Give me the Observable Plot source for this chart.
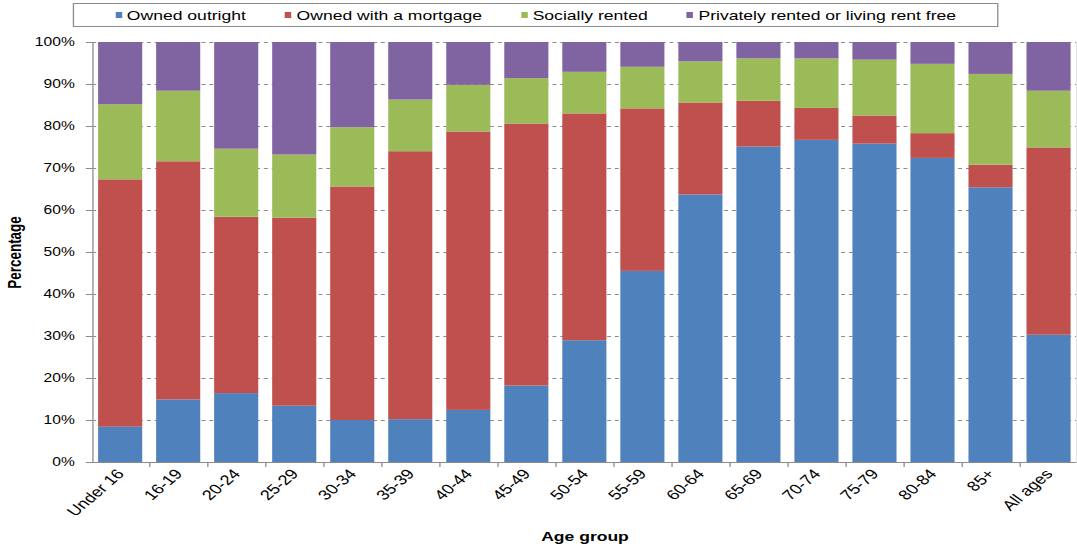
<!DOCTYPE html>
<html>
<head>
<meta charset="utf-8">
<script src="https://cdn.jsdelivr.net/npm/d3@7"></script>
<script src="https://cdn.jsdelivr.net/npm/@observablehq/plot@0.6"></script>
<style>
  body { margin: 0; background: #fff; font-family: "Liberation Sans", Arial, sans-serif; }
  /* chart is laid out narrow and widened horizontally as a whole */
  #chart { width: 829px; transform: scaleX(1.3); transform-origin: 0 0; }
  .legend {
    margin: 3px 0 3px 56px; width: 710px; height: 22px;
    border: 1px solid #8c8c8c; display: flex; justify-content: center; align-items: center;
    gap: 30px; font-size: 13.5px; color: #000;
  }
  .legend .item { display: flex; align-items: center; white-space: nowrap; }
  .legend .swatch { display: inline-block; width: 5px; height: 6px; margin-right: 4px; }
</style>
</head>
<body>
<div id="chart">
  <div class="legend" id="legend"></div>
  <div id="plot"></div>
</div>
<script>
// Household tenure by age group (percent of people in each group)
const ageGroups = ["Under 16", "16-19", "20-24", "25-29", "30-34", "35-39", "40-44", "45-49",
  "50-54", "55-59", "60-64", "65-69", "70-74", "75-79", "80-84", "85+", "All ages"];

const ownedOutright   = [8.4, 14.9, 16.4, 13.4, 10.0, 10.2, 12.4, 18.2, 29.0, 45.5, 63.7, 75.1, 76.7, 75.8, 72.4, 65.4, 30.3];
const ownedMortgage   = [58.9, 56.7, 42.0, 44.8, 55.6, 63.8, 66.3, 62.4, 54.0, 38.7, 21.9, 10.9, 7.6, 6.7, 5.9, 5.4, 44.6];
const sociallyRented  = [17.9, 16.8, 16.2, 15.0, 14.1, 12.3, 11.1, 10.8, 9.9, 9.9, 9.8, 10.1, 11.8, 13.3, 16.5, 21.6, 13.5];
const privatelyRented = [14.8, 11.6, 25.4, 26.8, 20.3, 13.7, 10.2, 8.6, 7.1, 5.9, 4.6, 3.9, 3.9, 4.2, 5.2, 7.6, 11.6];

const seriesNames = ["Owned outright", "Owned with a mortgage", "Socially rented", "Privately rented or living rent free"];
const seriesColors = ["#4f81bd", "#c0504d", "#9bbb59", "#8064a2"];
const yTicks = [0, 10, 20, 30, 40, 50, 60, 70, 80, 90, 100];

// long-format rows, stacked bottom-up in series order
const seriesValues = [ownedOutright, ownedMortgage, sociallyRented, privatelyRented];
const rows = [];
ageGroups.forEach((age, i) => {
  seriesNames.forEach((tenure, s) => rows.push({age, tenure, value: seriesValues[s][i]}));
});

// legend
const legend = document.getElementById("legend");
seriesNames.forEach((name, s) => {
  const item = document.createElement("span");
  item.className = "item";
  const sw = document.createElement("span");
  sw.className = "swatch";
  sw.style.background = seriesColors[s];
  item.appendChild(sw);
  item.appendChild(document.createTextNode(name));
  legend.appendChild(item);
});

const width = 829, marginLeft = 71, marginRight = 1;
const padInner = 0.24, padOuter = 0.1;
const step = (width - marginLeft - marginRight) / (ageGroups.length - padInner + 2 * padOuter);
const axisGrey = "#8c8c8c";

const chart = Plot.plot({
  width,
  height: 520,
  marginTop: 12,
  marginBottom: 88,
  marginLeft,
  marginRight,
  style: {fontFamily: "Liberation Sans, Arial, sans-serif", fontSize: "12px", color: "#000", background: "#fff"},
  x: {domain: ageGroups, paddingInner: padInner, paddingOuter: padOuter, round: false, label: null},
  y: {domain: [0, 100], label: null},
  color: {domain: seriesNames, range: seriesColors},
  marks: [
    Plot.gridY(yTicks.slice(1), {stroke: axisGrey, strokeOpacity: 1, strokeDasharray: "3,3"}),
    Plot.barY(rows, {x: "age", y: "value", fill: "tenure"}),
    Plot.ruleY([0], {stroke: axisGrey}),
    Plot.frame({anchor: "left", stroke: axisGrey}),
    Plot.frame({anchor: "right", stroke: "#d4d4d4"}),
    Plot.axisY({ticks: yTicks, tickFormat: d => d + "%", tickSize: 5, tickPadding: 9, stroke: axisGrey, fill: "#000"}),
    Plot.axisX({tickSize: 0, tickPadding: 9, tickRotate: -48, fill: "#000", fontSize: 14}),
    Plot.axisX({tickSize: 5, tickFormat: () => "", dx: step / 2, stroke: axisGrey}),
    Plot.text(["Percentage"], {text: d => d, frameAnchor: "left", dx: -60, rotate: -90, textAnchor: "middle", fontWeight: "bold", fontSize: 13.5}),
    Plot.text(["Age group"], {text: d => d, frameAnchor: "bottom", dy: 78, fontWeight: "bold", fontSize: 13.5})
  ]
});
document.getElementById("plot").appendChild(chart);
</script>
</body>
</html>
